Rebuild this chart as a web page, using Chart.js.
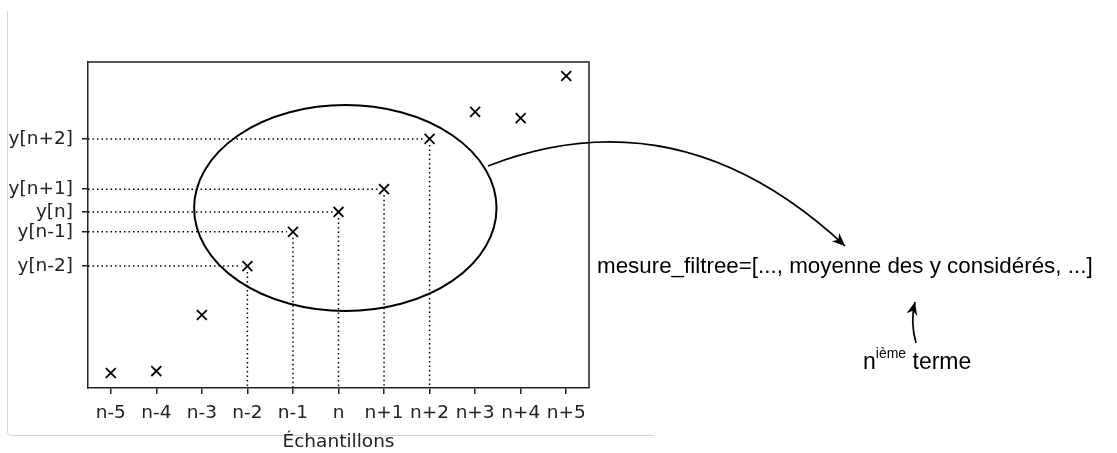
<!DOCTYPE html>
<html>
<head>
<meta charset="utf-8">
<script src="https://cdn.jsdelivr.net/npm/chart.js@4/dist/chart.umd.min.js"></script>
<style>
  html, body { margin: 0; padding: 0; background: #fff; }
  #wrap { width: 1117px; height: 453px; position: relative; }
</style>
</head>
<body>
<div id="wrap"><canvas id="chart" width="1117" height="453"></canvas></div>
<script>
// samples
const categories = ['n-5', 'n-4', 'n-3', 'n-2', 'n-1', 'n', 'n+1', 'n+2', 'n+3', 'n+4', 'n+5'];
const values = [0.46, 0.52, 2.24, 3.74, 4.79, 5.40, 6.10, 7.64, 8.47, 8.28, 9.57];
const yTickValues = [3.74, 4.79, 5.40, 6.10, 7.64];
const yTickLabels = ['y[n-2]', 'y[n-1]', 'y[n]', 'y[n+1]', 'y[n+2]'];
const guideIndices = [3, 4, 5, 6, 7];   // points with dotted guides
const xAxisTitle = 'Échantillons';
const formulaText = 'mesure_filtree=[..., moyenne des y considérés, ...]';

const tickFont = { family: 'DejaVu Sans', size: 18.5 };

const overlay = {
    id: 'overlay',
    beforeDraw(chart) {
        const ctx = chart.ctx;
        ctx.save();
        ctx.fillStyle = '#fff';
        ctx.fillRect(0, 0, chart.width, chart.height);
        // faint frame left + bottom
        ctx.strokeStyle = '#d4d4d4';
        ctx.lineWidth = 1;
        ctx.beginPath();
        ctx.moveTo(7.5, 11);
        ctx.lineTo(7.5, 432);
        ctx.quadraticCurveTo(7.5, 435.5, 11, 435.5);
        ctx.lineTo(654, 435.5);
        ctx.stroke();
        ctx.restore();
    },
    afterDatasetsDraw(chart) {
        const ctx = chart.ctx;
        const xs = chart.scales.x, ys = chart.scales.y;
        const area = chart.chartArea;
        ctx.save();

        // dotted guides to the axes
        ctx.strokeStyle = '#000';
        ctx.lineWidth = 1.5;
        ctx.setLineDash([1.5, 3]);
        guideIndices.forEach(i => {
            const px = xs.getPixelForValue(i);
            const py = ys.getPixelForValue(values[i]);
            ctx.beginPath();
            ctx.moveTo(area.left, py);
            ctx.lineTo(px - 6, py);
            ctx.stroke();
            ctx.beginPath();
            ctx.moveTo(px, py + 6);
            ctx.lineTo(px, area.bottom);
            ctx.stroke();
        });
        ctx.setLineDash([]);

        // ellipse around the window
        const cx = xs.getPixelForValue(5.15), cy = ys.getPixelForValue(5.52);
        const rx = xs.getPixelForValue(5.15 + 3.32) - cx;
        const ry = cy - ys.getPixelForValue(5.52 + 3.16);
        ctx.lineWidth = 2;
        ctx.beginPath();
        ctx.ellipse(cx, cy, rx, ry, 0, 0, Math.PI * 2);
        ctx.stroke();

        // top and right frame
        ctx.strokeStyle = '#222';
        ctx.lineWidth = 1.5;
        ctx.beginPath();
        ctx.moveTo(area.left, area.top);
        ctx.lineTo(area.right, area.top);
        ctx.lineTo(area.right, area.bottom);
        ctx.stroke();

        // big curved arrow
        const p0 = { x: 488, y: 166 }, c = { x: 680, y: 92 }, p2 = { x: 845, y: 246 };
        ctx.strokeStyle = '#000';
        ctx.lineWidth = 1.7;
        ctx.beginPath();
        ctx.moveTo(p0.x, p0.y);
        ctx.quadraticCurveTo(c.x, c.y, p2.x, p2.y);
        ctx.stroke();
        arrowHead(ctx, p2, Math.atan2(p2.y - c.y, p2.x - c.x));

        // small arrow up to the nth term
        const q0 = { x: 916, y: 343 }, qc = { x: 910, y: 322 }, q2 = { x: 915, y: 302 };
        ctx.beginPath();
        ctx.moveTo(q0.x, q0.y);
        ctx.quadraticCurveTo(qc.x, qc.y, q2.x, q2.y);
        ctx.stroke();
        arrowHead(ctx, q2, Math.atan2(q2.y - qc.y, q2.x - qc.x));

        // texts
        ctx.fillStyle = '#000';
        ctx.textBaseline = 'alphabetic';
        ctx.textAlign = 'left';
        let size = 21;
        ctx.font = size + 'px "Liberation Sans"';
        size = size * 496 / ctx.measureText(formulaText).width;
        ctx.font = size.toFixed(2) + 'px "Liberation Sans"';
        ctx.fillText(formulaText, 597, 273);

        ctx.font = '23px "Liberation Sans"';
        ctx.fillText('n', 863, 369);
        const nw = ctx.measureText('n').width;
        ctx.font = '14px "Liberation Sans"';
        ctx.fillText('ième', 863 + nw, 358);
        const sw = ctx.measureText('ième').width;
        ctx.font = '23px "Liberation Sans"';
        ctx.fillText(' terme', 863 + nw + sw, 369);

        ctx.restore();
    }
};

function arrowHead(ctx, tip, ang) {
    const len = 13, half = 5.5;
    ctx.save();
    ctx.translate(tip.x, tip.y);
    ctx.rotate(ang);
    ctx.beginPath();
    ctx.moveTo(0, 0);
    ctx.lineTo(-len, -half);
    ctx.lineTo(-len * 0.7, 0);
    ctx.lineTo(-len, half);
    ctx.closePath();
    ctx.fill();
    ctx.restore();
}

new Chart(document.getElementById('chart'), {
    type: 'scatter',
    data: {
        datasets: [{
            data: values.map((v, i) => ({ x: i, y: v })),
            pointStyle: 'crossRot',
            pointRadius: 7,
            pointBorderWidth: 1.8,
            borderColor: '#000',
            backgroundColor: '#000',
            pointHoverRadius: 7
        }]
    },
    options: {
        responsive: false,
        animation: false,
        events: [],
        layout: { padding: { left: 0, top: 62, right: 528, bottom: 0 } },
        plugins: { legend: { display: false }, tooltip: { enabled: false } },
        scales: {
            x: {
                type: 'linear',
                min: -0.5,
                max: 10.5,
                afterBuildTicks: s => { s.ticks = categories.map((c, i) => ({ value: i })); },
                afterFit: s => { s.height = 65; },
                ticks: {
                    callback: v => categories[v],
                    autoSkip: false,
                    maxRotation: 0,
                    font: tickFont,
                    color: '#222',
                    padding: 8
                },
                grid: { drawOnChartArea: false, drawTicks: true, tickLength: 6, color: '#222', lineWidth: 1.5 },
                border: { display: true, color: '#222', width: 1.5 },
                title: { display: true, text: xAxisTitle, font: tickFont, color: '#222', padding: { top: 0, bottom: 0 } }
            },
            y: {
                type: 'linear',
                min: 0,
                max: 10,
                afterBuildTicks: s => { s.ticks = yTickValues.map(v => ({ value: v })); },
                afterFit: s => { s.width = 88; },
                ticks: {
                    callback: (v, i) => yTickLabels[i],
                    autoSkip: false,
                    font: tickFont,
                    color: '#222',
                    padding: 9
                },
                grid: { drawOnChartArea: false, drawTicks: true, tickLength: 6, color: '#222', lineWidth: 1.5 },
                border: { display: true, color: '#222', width: 1.5 }
            }
        }
    },
    plugins: [overlay]
});
</script>
</body>
</html>
